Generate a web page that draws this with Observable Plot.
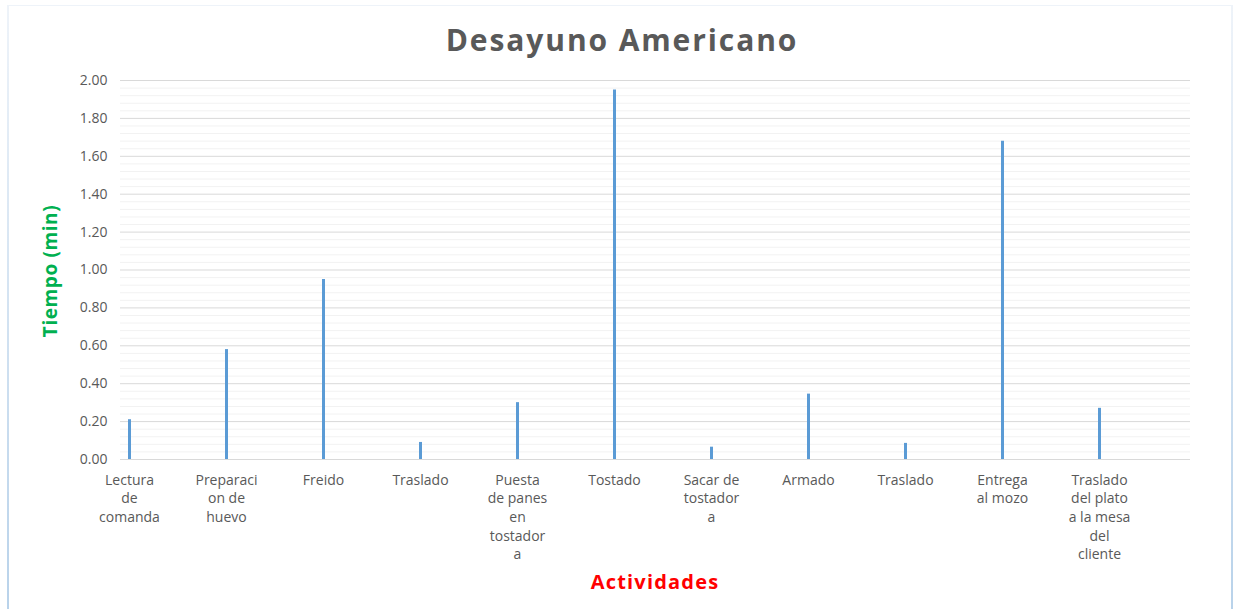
<!DOCTYPE html>
<html>
<head>
<meta charset="utf-8">
<script src="https://cdn.jsdelivr.net/npm/d3@7"></script>
<script src="https://cdn.jsdelivr.net/npm/@observablehq/plot@0.6"></script>
<style>
  html, body { margin: 0; padding: 0; background: #fff; }
  #wrap { position: relative; width: 1239px; height: 609px; overflow: hidden; font-family: "Open Sans", sans-serif; }
  #frame { position: absolute; left: 7px; top: 5px; width: 1226px; height: 610px; border-style: solid; border-width: 1px 2px 0 2px;
           border-image: linear-gradient(#eef3f9, #b8d2ea) 1; box-sizing: border-box; }
  #chart { position: absolute; left: 0; top: 0; }
  .lbl { position: absolute; white-space: nowrap; font-weight: 700; line-height: 1; }
  #title { left: 622px; top: 25px; transform: translateX(-50%); font-size: 30px; color: #595959; letter-spacing: 1.9px; }
  #ylab { left: 50px; top: 271px; transform: translate(-50%, -50%) rotate(-90deg); font-size: 19px; color: #00B050; letter-spacing: 0.6px; }
  #xlab { left: 655px; top: 582px; transform: translate(-50%, -50%); font-size: 20px; color: #FF0000; letter-spacing: 1.2px; }
</style>
</head>
<body>
<div id="wrap">
  <div id="frame"></div>
  <div id="chart"></div>
  <div class="lbl" id="title">Desayuno Americano</div>
  <div class="lbl" id="ylab">Tiempo (min)</div>
  <div class="lbl" id="xlab">Actividades</div>
</div>
<script>
const categories = [
  "Lectura\nde\ncomanda",
  "Preparaci\non de\nhuevo",
  "Freido",
  "Traslado",
  "Puesta\nde panes\nen\ntostador\na",
  "Tostado",
  "Sacar de\ntostador\na",
  "Armado",
  "Traslado",
  "Entrega\nal mozo",
  "Traslado\ndel plato\na la mesa\ndel\ncliente"
];
const tiempos = [0.21, 0.58, 0.95, 0.09, 0.30, 1.95, 0.065, 0.345, 0.085, 1.68, 0.27];
const yTicks = [0, 0.2, 0.4, 0.6, 0.8, 1.0, 1.2, 1.4, 1.6, 1.8, 2.0];
const yMinor = d3.range(0, 2.0001, 0.04).filter(v => Math.abs(Math.round(v / 0.2) * 0.2 - v) > 1e-6);

const idx = categories.map((_, i) => i);
const data = idx.map(i => ({ i, label: categories[i], value: tiempos[i] }));

const chart = Plot.plot({
  width: 1239,
  height: 609,
  marginLeft: 120,
  marginRight: 49,
  marginTop: 80,
  marginBottom: 150,
  style: { fontFamily: "Open Sans, sans-serif", background: "transparent", overflow: "visible" },
  x: { type: "point", domain: idx, padding: 0.515, align: 0.09, axis: null },
  y: { domain: [0, 2], axis: null },
  marks: [
    Plot.ruleY(yMinor, { stroke: "#f2f2f2", strokeWidth: 1 }),
    Plot.ruleY(yTicks, { stroke: "#d9d9d9", strokeWidth: 1 }),
    Plot.axisY(yTicks, {
      tickSize: 0, tickPadding: 13, tickFormat: d3.format(".2f"),
      fontSize: 14, fill: "#595959", style: "letter-spacing:1.1px", label: null
    }),
    Plot.ruleX(data, { x: "i", y1: 0, y2: "value", stroke: "#5B9BD5", strokeWidth: 3 }),
    Plot.text(data, {
      x: "i", y: 0, text: "label", dy: 12, lineAnchor: "top", lineHeight: 1.33,
      fontSize: 14, fill: "#595959", textAnchor: "middle", style: "letter-spacing:0.7px"
    })
  ]
});
document.getElementById("chart").appendChild(chart);
</script>
</body>
</html>
